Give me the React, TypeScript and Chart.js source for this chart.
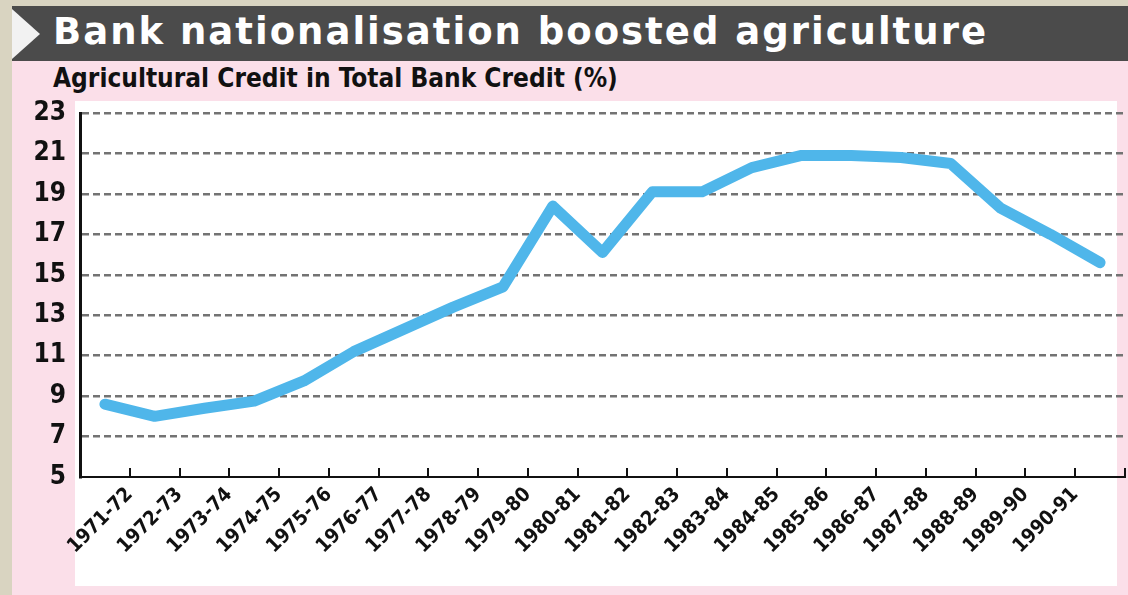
import React, { useEffect, useRef } from "react";
import { Chart, registerables } from "chart.js";

Chart.register(...registerables);

// Period labels, placed on the tick marks of the x axis (as in the original graphic)
const periods = [
  "1971-72", "1972-73", "1973-74", "1974-75", "1975-76", "1976-77", "1977-78",
  "1978-79", "1979-80", "1980-81", "1981-82", "1982-83", "1983-84", "1984-85",
  "1985-86", "1986-87", "1987-88", "1988-89", "1989-90", "1990-91",
];

// Agricultural credit share (%) – one point in the middle of each band between ticks
const creditShare = [
  8.6, 8.0, 8.4, 8.75, 9.75, 11.2, 12.3, 13.4, 14.4, 18.4, 16.1,
  19.1, 19.1, 20.3, 20.9, 20.9, 20.8, 20.5, 18.3, 17.0, 15.6,
];

const yTickValues = [5, 7, 9, 11, 13, 15, 17, 19, 21, 23];

const TITLE = "Bank nationalisation boosted agriculture";
const SUBTITLE = "Agricultural Credit in Total Bank Credit (%)";

const NARROW = "'Liberation Sans Narrow', 'DejaVu Sans Condensed', 'Roboto', sans-serif";

const innerTicks = {
  id: "innerTicks",
  afterDatasetsDraw(chart: any) {
    const xs = chart.scales.x;
    const ctx = chart.ctx;
    const bottom = chart.chartArea.bottom;
    ctx.save();
    ctx.strokeStyle = "#111";
    ctx.lineWidth = 2;
    for (let i = 1; i <= periods.length + 1; i++) {
      const px = Math.round(xs.getPixelForValue(i));
      ctx.beginPath();
      ctx.moveTo(px, bottom);
      ctx.lineTo(px, bottom - 9);
      ctx.stroke();
    }
    ctx.restore();
  },
};

export default function App() {
  const canvasRef = useRef<HTMLCanvasElement | null>(null);

  useEffect(() => {
    document.body.style.margin = "0";
    const canvas = canvasRef.current;
    if (!canvas) return;
    const chart = new Chart(canvas, {
      type: "line",
      data: {
        datasets: [
          {
            label: "Agricultural credit share",
            data: creditShare.map((v, i) => ({ x: i + 0.5, y: v })),
            borderColor: "#4fb6ea",
            borderWidth: 11,
            borderCapStyle: "round",
            borderJoinStyle: "round",
            pointRadius: 0,
            tension: 0,
            fill: false,
          },
        ],
      },
      options: {
        animation: false,
        responsive: false,
        devicePixelRatio: 1,
        layout: { padding: { left: 20, top: 113, right: 3, bottom: 0 } },
        plugins: {
          legend: { display: false },
          tooltip: { enabled: false },
          title: { display: false },
        },
        scales: {
          x: {
            type: "linear",
            min: 0,
            max: periods.length + 1,
            afterFit: (s: any) => {
              s.height = 118;
              s.paddingRight = 0;
              s.paddingLeft = 0;
            },
            afterBuildTicks: (s: any) => {
              const t = [];
              for (let i = 0; i <= periods.length + 1; i++) t.push({ value: i });
              s.ticks = t;
            },
            ticks: {
              autoSkip: false,
              minRotation: 45,
              maxRotation: 45,
              padding: 6,
              color: "#111",
              font: { family: NARROW, size: 20, weight: "bold" },
              callback: (v: any) => {
                const n = Number(v);
                return n >= 1 && n <= periods.length ? periods[n - 1] : "";
              },
            },
            grid: { display: false, drawTicks: false },
            border: { display: true, color: "#111", width: 2 },
          },
          y: {
            min: 5,
            max: 23,
            afterFit: (s: any) => {
              s.width = 60;
            },
            afterBuildTicks: (s: any) => {
              s.ticks = yTickValues.map((v) => ({ value: v }));
            },
            ticks: {
              padding: 14,
              color: "#111",
              font: { family: NARROW, size: 26, weight: "bold" },
            },
            grid: {
              drawTicks: false,
              lineWidth: 2.5,
              color: (c: any) => (c.tick && c.tick.value === 5 ? "rgba(0,0,0,0)" : "#737373"),
            },
            border: { display: true, color: "#111", width: 3, dash: [7, 4] },
          },
        },
      },
      plugins: [innerTicks],
    });
    return () => chart.destroy();
  }, []);

  return (
    <div
      style={{
        position: "fixed",
        left: 0,
        top: 0,
        width: 1128,
        height: 595,
        overflow: "hidden",
        background: "#d9d4c1",
      }}
    >
      {/* title bar */}
      <div
        style={{
          position: "absolute",
          left: 12,
          top: 6,
          width: 1116,
          height: 55,
          background: "#4b4b4b",
        }}
      />
      <svg
        style={{ position: "absolute", left: 0, top: 0 }}
        width={60}
        height={64}
      >
        <polygon points="12,9 40,34 12,59" fill="#f2f2f2" />
      </svg>
      <div
        style={{
          position: "absolute",
          left: 53,
          top: 13,
          whiteSpace: "nowrap",
          color: "#ffffff",
          fontFamily: "'DejaVu Sans', sans-serif",
          fontWeight: 900,
          fontSize: 37,
          lineHeight: "37px",
          letterSpacing: "2px",
        }}
      >
        {TITLE}
      </div>
      {/* pink panel */}
      <div
        style={{
          position: "absolute",
          left: 12,
          top: 61,
          width: 1116,
          height: 534,
          background: "#fbdfe9",
        }}
      />
      <div
        style={{
          position: "absolute",
          left: 53,
          top: 65,
          whiteSpace: "nowrap",
          color: "#111",
          fontFamily: NARROW,
          fontWeight: 700,
          fontSize: 26,
          lineHeight: "27px",
        }}
      >
        {SUBTITLE}
      </div>
      {/* white plot panel */}
      <div
        style={{
          position: "absolute",
          left: 75,
          top: 101,
          width: 1042,
          height: 485,
          background: "#ffffff",
        }}
      />
      <canvas
        ref={canvasRef}
        width={1128}
        height={595}
        style={{ position: "absolute", left: 0, top: 0, width: 1128, height: 595 }}
      />
    </div>
  );
}
